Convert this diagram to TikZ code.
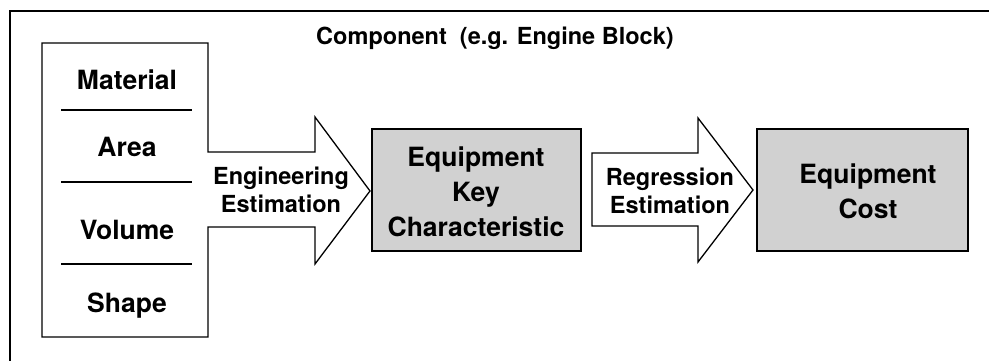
\documentclass[tikz,border=0pt]{standalone}
\usepackage{fontspec}
\setmainfont{TeX Gyre Heros}
\usetikzlibrary{positioning}

\tikzset{
  itemlbl/.style={font=\bfseries\fontsize{26.5}{28}\selectfont, anchor=base, inner sep=0pt},
  arrowlbl/.style={font=\bfseries\fontsize{23.5}{27.5}\selectfont, align=center, anchor=base, inner sep=0pt},
  boxlbl/.style={font=\bfseries\fontsize{26.5}{35}\selectfont, align=center, anchor=base, inner sep=0pt},
  keybox/.style={draw, line width=1.8pt, fill=black!18},
}

\begin{document}
\begin{tikzpicture}[x=1pt, y=-1pt, line join=miter]
\useasboundingbox (0,0) rectangle (989,361);
% frame (only top and left edges show)
\draw[line width=2pt] (989,11) -- (10,11) -- (10,361);

\node[font=\bfseries\fontsize{23.5}{25}\selectfont, anchor=base, inner sep=0pt] (title) at (495,45) {Component\ \ (e.g. Engine Block)};

% left box merged with first arrow
\draw[line width=1.3pt] (42,43) -- (208,43) -- (208,152) -- (315,152) -- (315,117)
  -- (370,191) -- (315,264) -- (315,227) -- (208,227) -- (208,337) -- (42,337) -- cycle;
\foreach \y in {110,182,264}
  \draw[line width=1.3pt] (61,\y) -- (192,\y);

\node[itemlbl] (mat)  at (127,89)  {Material};
\node[itemlbl] (area) at (127,157) {Area};
\node[itemlbl] (vol)  at (127,239) {Volume};
\node[itemlbl] (shp)  at (127,312) {Shape};

% base of a multi-line node is its last line
\node[arrowlbl] (engest) at (281,212) {Engineering\\Estimation};

% key characteristic box
\draw[keybox] (372,129) rectangle (581,251);
\node[boxlbl] (keychar) at (476,236) {Equipment\\Key\\Characteristic};

% second arrow
\draw[line width=1.3pt] (592,153) -- (698,153) -- (698,118) -- (753,190)
  -- (698,262) -- (698,226) -- (592,226) -- cycle;
\node[arrowlbl] (regest) at (670,213) {Regression\\Estimation};

% cost box
\draw[keybox] (757,129) rectangle (968,251);
\node[boxlbl] (cost) at (868,218) {Equipment\\Cost};

\end{tikzpicture}
\end{document}
